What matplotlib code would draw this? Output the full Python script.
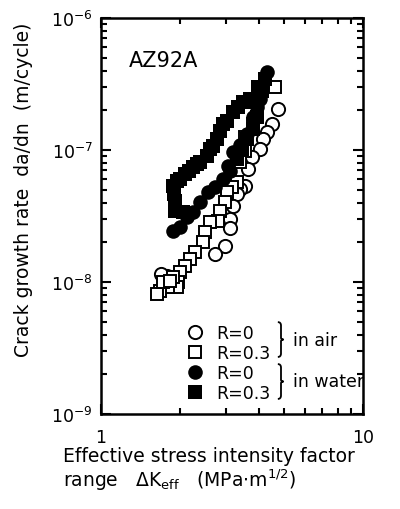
import matplotlib
matplotlib.use("Agg")
import matplotlib.pyplot as plt
from matplotlib.lines import Line2D
from matplotlib.path import Path
from matplotlib.patches import PathPatch
from matplotlib.ticker import LogLocator, FixedLocator, NullFormatter

plt.rcParams['font.family'] = ['DejaVu Sans']
plt.rcParams['mathtext.fontset'] = 'dejavusans'

# R=0 in air (open circles)
air_r0_dk = [4.74, 4.50, 4.30, 4.15, 4.05, 3.77, 3.64, 3.55, 3.39, 3.31, 3.19, 3.11, 3.11, 2.97,
             2.72, 1.79, 1.70]
air_r0_da = [2.05e-7, 1.57e-7, 1.38e-7, 1.21e-7, 1.02e-7, 8.85e-8, 7.18e-8, 5.34e-8, 5.1e-8,
             4.65e-8, 3.77e-8, 3.0e-8, 2.55e-8, 1.87e-8, 1.63e-8, 1.11e-8, 1.15e-8]
# R=0.3 in air (open squares)
air_r3_dk = [4.61, 3.80, 3.55, 3.55, 3.39, 3.31, 3.17, 3.03, 2.97, 2.85, 2.80, 2.61, 2.49, 2.45,
             2.29, 2.19, 2.09, 2.00, 1.97, 1.95, 1.88, 1.80, 1.68, 1.64, 1.73, 1.83]
air_r3_da = [3.00e-7, 1.57e-7, 1.25e-7, 9.83e-8, 8.11e-8, 5.73e-8, 5.2e-8, 4.81e-8, 4.04e-8,
             3.45e-8, 2.90e-8, 2.85e-8, 2.39e-8, 2.01e-8, 1.69e-8, 1.49e-8, 1.32e-8, 1.19e-8,
             1.00e-8, 9.16e-9, 1.1e-8, 9.16e-9, 8.55e-9, 8.11e-9, 1.00e-8, 1.02e-8]
# R=0 in water (filled circles)
wat_r0_dk = [4.30, 4.12, 4.05, 3.94, 3.80, 3.61, 3.39, 3.19, 3.11, 3.05, 2.92, 2.72, 2.56, 2.39,
             2.25, 2.13, 2.00, 1.88]
wat_r0_da = [3.90e-7, 3.00e-7, 2.43e-7, 2.1e-7, 1.78e-7, 1.32e-7, 1.1e-7, 9.66e-8, 6.93e-8,
             7.57e-8, 6.03e-8, 5.2e-8, 4.81e-8, 4.04e-8, 3.39e-8, 3.1e-8, 2.61e-8, 2.43e-8]
# R=0.3 in water (filled squares)
wat_r3_dk = [4.23, 4.12, 3.97, 3.94, 3.94, 3.80, 3.70, 3.61, 3.45, 3.31, 3.48, 3.33, 3.19, 3.03,
             2.92, 2.85, 2.77, 2.68, 2.61, 2.54, 2.39, 2.32, 2.25, 2.17, 2.09, 2.00, 1.95, 1.88,
             1.90, 1.92, 1.92, 2.06]
wat_r3_da = [3.45e-7, 2.80e-7, 3.0e-7, 2.31e-7, 1.78e-7, 1.44e-7, 2.43e-7, 1.21e-7, 1.02e-7,
             8.55e-8, 2.31e-7, 2.1e-7, 1.94e-7, 1.66e-7, 1.57e-7, 1.39e-7, 1.21e-7, 1.07e-7,
             1.02e-7, 9.01e-8, 8.11e-8, 7.8e-8, 7.43e-8, 6.95e-8, 6.58e-8, 6.0e-8, 5.82e-8,
             5.34e-8, 4.65e-8, 4.11e-8, 3.45e-8, 3.39e-8]

x_ticks = [1, 10]
x_tick_labels = ['1', '10']
y_ticks = [1e-9, 1e-8, 1e-7, 1e-6]
y_tick_labels = [r'$10^{-9}$', r'$10^{-8}$', r'$10^{-7}$', r'$10^{-6}$']
legend_labels = ['R=0', 'R=0.3', 'R=0', 'R=0.3']

fig = plt.figure(figsize=(4.0, 5.1), dpi=100)
ax = fig.add_axes([0.2525, 0.1863, 0.655, 0.7765])
ax.set_xscale('log')
ax.set_yscale('log')
ax.set_xlim(1, 10)
ax.set_ylim(1e-9, 1e-6)

ms_c = 9.5
ms_s = 9.0
mew = 1.4
ax.plot(air_r0_dk, air_r0_da, 'o', ms=ms_c, mfc='white', mec='black', mew=mew, ls='none', zorder=3)
ax.plot(air_r3_dk, air_r3_da, 's', ms=ms_s, mfc='white', mec='black', mew=mew, ls='none', zorder=3)
ax.plot(wat_r0_dk, wat_r0_da, 'o', ms=ms_c + 1, mfc='black', mec='black', mew=0, ls='none', zorder=4)
ax.plot(wat_r3_dk, wat_r3_da, 's', ms=ms_s + 1, mfc='black', mec='black', mew=0, ls='none', zorder=4)

for s in ax.spines.values():
    s.set_linewidth(1.8)
ax.xaxis.set_major_locator(FixedLocator(x_ticks))
ax.set_xticklabels(x_tick_labels)
ax.xaxis.set_minor_locator(LogLocator(base=10, subs=range(2, 10)))
ax.xaxis.set_minor_formatter(NullFormatter())
ax.yaxis.set_major_locator(FixedLocator(y_ticks))
ax.set_yticklabels(y_tick_labels)
ax.yaxis.set_minor_locator(LogLocator(base=10, subs=range(2, 10)))
ax.yaxis.set_minor_formatter(NullFormatter())
ax.tick_params(which='both', direction='in', top=True, right=True, width=1.5, labelsize=12.5)
ax.tick_params(which='major', length=7)
ax.tick_params(axis='y', which='major', pad=6)
ax.tick_params(axis='x', which='major', pad=10)
ax.tick_params(which='minor', length=4)

ax.text(0.107, 0.894, 'AZ92A', transform=ax.transAxes, fontsize=15, va='center', ha='left')

handles = [
    Line2D([], [], marker='o', ls='none', ms=ms_c, mfc='white', mec='black', mew=mew),
    Line2D([], [], marker='s', ls='none', ms=ms_s, mfc='white', mec='black', mew=mew),
    Line2D([], [], marker='o', ls='none', ms=ms_c + 1, mfc='black', mec='black', mew=0),
    Line2D([], [], marker='s', ls='none', ms=ms_s + 1, mfc='black', mec='black', mew=0),
]
leg = ax.legend(handles, legend_labels, loc='lower left', bbox_to_anchor=(0.3, 0.012),
                frameon=False, fontsize=12.5, handlelength=1.0, handletextpad=0.7,
                labelspacing=0.12, borderaxespad=0.0)


def brace(x, y0, y1, w):
    ym = 0.5 * (y0 + y1)
    verts = [(x, y1), (x + w, y1), (x + w, y1 - 0.1 * (y1 - y0)), (x + w, ym + 0.05 * (y1 - y0)),
             (x + w, ym), (x + 1.8 * w, ym), (x + w, ym), (x + w, ym - 0.05 * (y1 - y0)),
             (x + w, y0 + 0.1 * (y1 - y0)), (x + w, y0), (x, y0)]
    codes = [Path.MOVETO, Path.CURVE3, Path.CURVE3, Path.LINETO, Path.CURVE3, Path.CURVE3,
             Path.CURVE3, Path.CURVE3, Path.LINETO, Path.CURVE3, Path.CURVE3]
    ax.add_patch(PathPatch(Path(verts, codes), fill=False, lw=1.3, transform=ax.transAxes,
                           clip_on=False))


brace(0.675, 0.144, 0.232, 0.012)
brace(0.675, 0.038, 0.126, 0.012)
ax.text(0.733, 0.187, 'in air', transform=ax.transAxes, fontsize=12.5, va='center', ha='left')
ax.text(0.733, 0.083, 'in water', transform=ax.transAxes, fontsize=12.5, va='center', ha='left')

fig.text(0.1575, 0.095, 'Effective stress intensity factor', fontsize=13.5, va='baseline', ha='left')
fig.text(0.1575, 0.045, r'range   $\Delta$K$_{\rm eff}$   (MPa$\cdot$m$^{1/2}$)', fontsize=13.5,
         va='baseline', ha='left')
fig.text(0.06, 0.627, 'Crack growth rate  da/dn  (m/cycle)', fontsize=13.5, rotation=90,
         va='center', ha='center')

fig.savefig('out.png', dpi=100)
